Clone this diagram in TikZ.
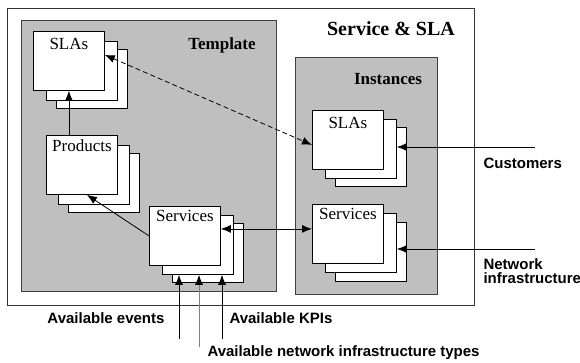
\documentclass[tikz,border=0pt]{standalone}
\usepackage{fontspec}
\setmainfont{Liberation Sans}
\newfontfamily\tmsfont{Liberation Serif}
\usetikzlibrary{arrows.meta}

\tikzset{
  page/.style={draw=black!80, line width=0.8pt, fill=white},
  area/.style={draw=black!75, line width=1pt, fill=gray!50},
  card/.style={draw=black, line width=0.8pt, fill=white, anchor=north west,
    minimum width=71pt, minimum height=59pt, inner sep=0pt},
  cardtext/.style={font=\tmsfont\fontsize{17}{19}\selectfont},
  title/.style={font=\tmsfont\bfseries\fontsize{17}{19}\selectfont},
  ext/.style={font=\bfseries\fontsize{15}{16}\selectfont, align=left},
  arr/.style={line width=0.8pt, -{Latex[length=10pt,width=8pt,color=black]}},
  darr/.style={line width=0.8pt, {Latex[length=10pt,width=8pt]}-{Latex[length=10pt,width=8pt]}}
}

\begin{document}
\begin{tikzpicture}[x=1pt, y=-1pt]
    \useasboundingbox (0,0) rectangle (580,362);

    % Frames
    \draw[page] (7,8) rectangle (474,305);
    \draw[area] (21,20) rectangle (276,291);
    \draw[area] (295,57) rectangle (437,294);
    \node[title, font=\tmsfont\bfseries\fontsize{20}{22}\selectfont] (svcsla) at (391,29) {Service \& SLA};
    \node[title] (tmpl) at (222,45) {Template};
    \node[title] (inst) at (388,79) {Instances};

    % Template: SLAs
    \node[card] (slaT3) at (56,49) {};
    \node[card] (slaT2) at (46,41) {};
    \node[card, label={[cardtext, anchor=north, yshift=-4pt]north:SLAs}] (slaT) at (33,31) {};

    % Template: Products
    \node[card] (prodT3) at (68,153) {};
    \node[card] (prodT2) at (58,145) {};
    \node[card, label={[cardtext, anchor=north, yshift=-1pt]north:Products}] (prodT) at (46,135) {};

    % Template: Services
    \node[card] (svcT3) at (172,223) {};
    \node[card] (svcT2) at (162,215) {};
    \node[card, label={[cardtext, anchor=north, yshift=-1pt]north:Services}] (svcT) at (149,206) {};

    % Instances: SLAs
    \node[card] (slaI3) at (335,127) {};
    \node[card] (slaI2) at (325,119) {};
    \node[card, label={[cardtext, anchor=north, yshift=-4pt]north:SLAs}] (slaI) at (312,110) {};

    % Instances: Services
    \node[card] (svcI3) at (335,222) {};
    \node[card] (svcI2) at (325,213) {};
    \node[card, label={[cardtext, anchor=north, yshift=-1pt]north:Services}] (svcI) at (312,204) {};

    % Outside inputs
    \node[ext, anchor=west] (cust) at (480,163) {Customers};
    \node[ext, anchor=west] (netw) at (480,271) {Network\\[-2pt]infrastructure};
    \node[ext] (events) at (106,318) {Available events};
    \node[ext, anchor=west] (kpis) at (226,318) {Available KPIs};
    \node[ext, anchor=west] (types) at (204,353) {Available network infrastructure types};
    \coordinate (custin) at (535,147);
    \coordinate (netin) at (535,249);
    \coordinate (evin) at (179,339);
    \coordinate (typin) at (199,347);
    \coordinate (kpiin) at (222,339);
    \coordinate (svclink) at ([yshift=7pt]svcT.east);

    % Connections
    \draw[arr] (slaT.south |- prodT.north) -- (slaT.south);
    \draw[darr, dash pattern=on 5pt off 3pt] ([yshift=6pt]slaT.east) -- ([yshift=-5pt]slaI.west);
    \draw[arr] (svcT.west) -- ([xshift=5pt]prodT.south);
    \draw[darr] (svclink) -- (svclink -| svcI.west);
    \draw[arr] (custin) -- (custin -| slaI2.east);
    \draw[arr] (netin) -- (netin -| svcI2.east);
    \draw[arr] (evin) -- (evin |- svcT2.south);
    \draw[arr, draw=gray] (typin) -- (typin |- svcT2.south);
    \draw[arr] (kpiin) -- (kpiin |- svcT2.south);
\end{tikzpicture}
\end{document}
